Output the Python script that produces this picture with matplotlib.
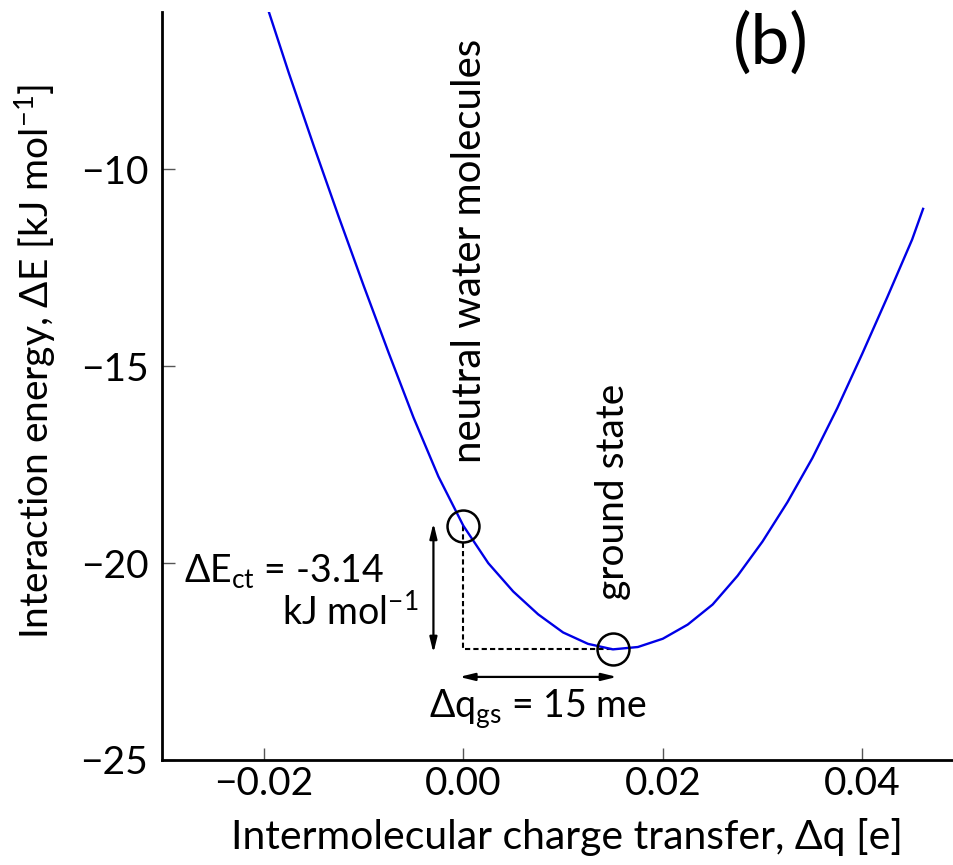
import matplotlib
matplotlib.use("Agg")
import matplotlib.pyplot as plt

plt.rcParams['font.family'] = ['Lato', 'DejaVu Sans']
plt.rcParams['mathtext.fontset'] = 'custom'
plt.rcParams['mathtext.rm'] = 'Lato'
plt.rcParams['mathtext.default'] = 'regular'

# interaction energy vs. intermolecular charge transfer
dq = [-0.0195, -0.0175, -0.015, -0.0125, -0.010, -0.0075, -0.005, -0.0025,
      0.000, 0.0025, 0.005, 0.0075, 0.010, 0.0125, 0.015, 0.0175, 0.020,
      0.0225, 0.025, 0.0275, 0.030, 0.0325, 0.035, 0.0375, 0.040, 0.0425,
      0.045, 0.0461]
dE = [-6.0, -7.55, -9.4, -11.2, -12.95, -14.65, -16.3, -17.8,
      -19.05, -20.0, -20.72, -21.3, -21.76, -22.05, -22.19, -22.13, -21.92,
      -21.56, -21.05, -20.32, -19.45, -18.45, -17.33, -16.06, -14.68, -13.25,
      -11.78, -11.0]

# marked states
q_neutral, E_neutral = 0.0, -19.05
q_gs, E_gs = 0.015, -22.19

xticks = [-0.02, 0.00, 0.02, 0.04]
yticks = [-25, -20, -15, -10]

fig = plt.figure(figsize=(9.54, 8.65), dpi=100)
ax = fig.add_axes([0.170, 0.1214, 0.830, 0.8647])

ax.plot(dq, dE, color='#0000e6', lw=1.7, zorder=3)

# dashed guides
ax.plot([q_neutral, q_neutral, q_gs], [E_neutral, E_gs, E_gs],
        color='black', lw=1.5, ls=(0, (2.5, 1.5)), zorder=2)

ax.plot([q_neutral, q_gs], [E_neutral, E_gs], 'o', ms=23, mfc='none',
        mec='black', mew=1.8, zorder=4)

arrow = dict(arrowstyle='<|-|>,head_length=0.9,head_width=0.22',
             color='black', lw=1.6, shrinkA=0, shrinkB=0)
ax.annotate('', xy=(-0.003, -22.28), xytext=(-0.003, -18.98), arrowprops=arrow)
ax.annotate('', xy=(0.0154, -22.89), xytext=(-0.0004, -22.89), arrowprops=arrow)

ax.text(-0.0079, -20.48, 'ΔE$_{ct}$ = -3.14', fontsize=27, ha='right', va='baseline')
ax.text(-0.0045, -21.57, 'kJ mol$^{-1}$', fontsize=27, ha='right', va='baseline')
ax.text(-0.0034, -23.94, 'Δq$_{gs}$ = 15 me', fontsize=27, ha='left', va='baseline')

ax.text(0.0006, -17.46, 'neutral water molecules', fontsize=29, rotation=90,
        ha='center', va='bottom')
ax.text(0.0150, -20.94, 'ground state', fontsize=28, rotation=90,
        ha='center', va='bottom')

ax.text(0.769, 0.958, '(b)', transform=ax.transAxes, fontsize=50,
        ha='center', va='center')

ax.set_xlim(-0.0302, 0.0492)
ax.set_ylim(-25, -6.0)
ax.set_xticks(xticks)
ax.set_yticks(yticks)
ax.set_xticklabels(['−0.02', '0.00', '0.02', '0.04'])
ax.set_yticklabels(['−25', '−20', '−15', '−10'])

for side in ['top', 'right']:
    ax.spines[side].set_visible(False)
for side in ['left', 'bottom']:
    ax.spines[side].set_linewidth(2.0)

ax.tick_params(direction='in', length=9, width=1.0, color='#555555',
               labelsize=28)
ax.tick_params(axis='x', pad=4)
ax.tick_params(axis='y', pad=10)

ax.set_xlabel('Intermolecular charge transfer, Δq [e]', fontsize=29.5)
ax.set_ylabel('Interaction energy, ΔE [kJ mol$^{-1}$]', fontsize=28)
ax.xaxis.set_label_coords(0.511, -0.078)
ax.yaxis.set_label_coords(-0.131, 0.533)

fig.savefig('out.png', dpi=100)
